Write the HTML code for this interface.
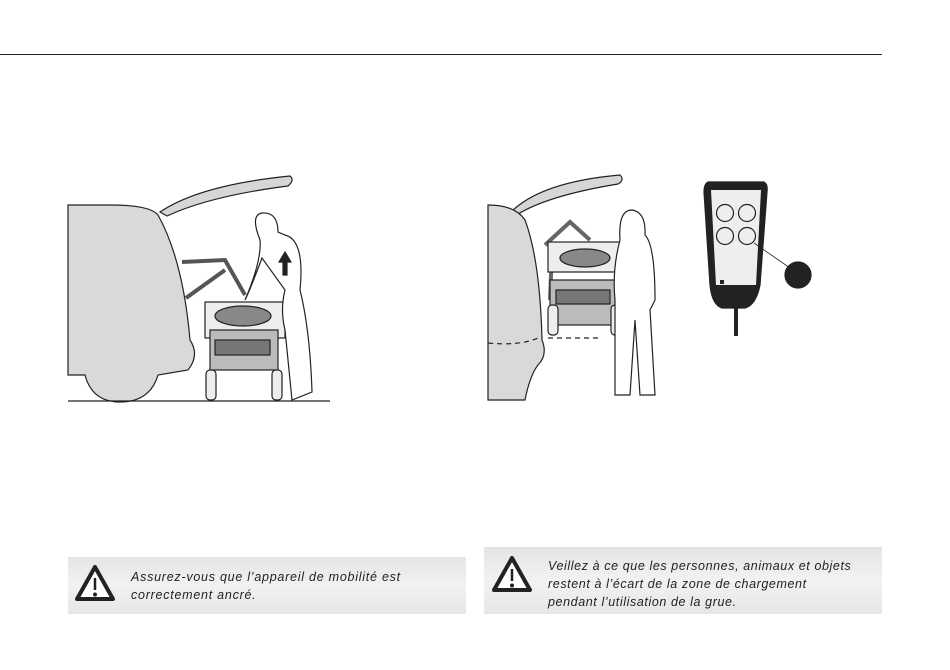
<!DOCTYPE html>
<html><head><meta charset="utf-8"><style>
body{margin:0;background:#fff;width:950px;height:670px;overflow:hidden;position:relative;font-family:"Liberation Sans",sans-serif}
.box{position:absolute;background:linear-gradient(#e4e4e4,#f2f2f2 50%,#e6e6e6);}
.box p{position:absolute;margin:0;font-style:italic;font-size:12.5px;line-height:18px;color:#222;letter-spacing:0.75px}
</style></head><body>
<div style="position:absolute;left:0;top:54px;width:882px;height:1px;background:#222"></div>
<svg width="950" height="670" style="position:absolute;left:0;top:0" stroke="#222" stroke-width="1.2" fill="none">
<!-- left scene -->
<path d="M160 212 Q200 185 290 176 Q295 180 288 186 Q210 196 167 216 Z" fill="#d6d6d6"/>
<path d="M68 205 L68 375 L85 375 Q92 402 120 402 Q150 402 158 375 L188 370 Q200 355 190 340 Q183 260 158 215 Q150 205 110 205 Z" fill="#d9d9d9"/>
<line x1="68" y1="401" x2="330" y2="401"/>
<path d="M182 262 L225 260 L245 295 M186 298 L225 270" stroke-width="4" stroke="#555"/>
<rect x="205" y="302" width="80" height="36" fill="#eee"/>
<ellipse cx="243" cy="316" rx="28" ry="10" fill="#888"/>
<rect x="210" y="330" width="68" height="40" fill="#bbb"/>
<rect x="215" y="340" width="55" height="15" fill="#777"/>
<rect x="206" y="370" width="10" height="30" rx="4" fill="#eee"/>
<rect x="272" y="370" width="10" height="30" rx="4" fill="#eee"/>
<path d="M260 240 Q250 215 262 213 Q278 212 278 232 L285 235 Q305 240 300 290 Q310 330 312 392 L292 400 Q288 360 285 330 Q280 310 285 290 L262 258 Q250 290 245 300 Q262 260 260 240 Z" fill="#fff"/>
<path d="M283 275 L283 262 L279 262 L285 252 L291 262 L287 262 L287 275 Z" fill="#222"/>
<!-- right scene -->
<path d="M510 213 Q540 182 620 175 Q625 180 618 184 Q545 196 515 216 Z" fill="#d6d6d6"/>
<path d="M488 205 Q515 205 525 220 Q540 260 542 340 Q548 355 538 365 Q530 375 525 400 L488 400 Z" fill="#d9d9d9"/>
<path d="M488 343 Q520 346 538 338 M548 338 L600 338" stroke-dasharray="5 4"/>
<path d="M545 245 L570 222 L590 240 M550 300 L552 250" stroke-width="4" stroke="#666"/>
<rect x="548" y="242" width="78" height="30" fill="#eee"/>
<ellipse cx="585" cy="258" rx="25" ry="9" fill="#888"/>
<rect x="550" y="280" width="66" height="45" fill="#bbb"/>
<rect x="556" y="290" width="54" height="14" fill="#777"/>
<rect x="548" y="305" width="10" height="30" rx="4" fill="#eee"/>
<rect x="611" y="305" width="10" height="30" rx="4" fill="#eee"/>
<path d="M620 240 Q618 210 632 210 Q646 212 645 235 Q655 245 655 300 L650 310 L655 395 L640 395 L635 320 L630 395 L615 395 L615 300 Q612 270 620 240 Z" fill="#fff"/>
<!-- remote -->
<path d="M708 182 L764 182 Q768 184 767 192 L760 285 Q756 305 745 308 L722 308 Q712 305 710 285 L704 192 Q704 184 708 182 Z" fill="#222"/>
<path d="M711 190 L761 190 L756 285 L716 285 Z" fill="#eee" stroke="none"/>
<circle cx="725" cy="213" r="8.5" fill="#eee"/><circle cx="747" cy="213" r="8.5" fill="#eee"/>
<circle cx="725" cy="236" r="8.5" fill="#eee"/><circle cx="747" cy="236" r="8.5" fill="#eee"/>
<rect x="720" y="280" width="4" height="4" fill="#222" stroke="none"/>
<line x1="736" y1="308" x2="736" y2="336" stroke-width="4"/>
<line x1="754" y1="243" x2="790" y2="268" stroke-width="0.8"/>
<circle cx="798" cy="275" r="13" fill="#222"/>
</svg>
<div class="box" style="left:68px;top:557px;width:398px;height:57px"><p style="left:63px;top:11px">Assurez-vous que l’appareil de mobilité est<br>correctement ancré.</p></div>
<div class="box" style="left:484px;top:547px;width:398px;height:67px"><p style="left:64px;top:10px;letter-spacing:0.6px">Veillez à ce que les personnes, animaux et objets<br>restent à l’écart de la zone de chargement<br>pendant l’utilisation de la grue.</p></div>
<svg width="950" height="670" style="position:absolute;left:0;top:0" stroke="#222" fill="none">
<g transform="translate(512,576)"><path d="M0 -18 L18 14 L-18 14 Z" stroke-width="4" stroke-linejoin="round" fill="#fff"/><line x1="0" y1="-7" x2="0" y2="5" stroke-width="2.5"/><circle cx="0" cy="9.5" r="1.5" fill="#222"/></g>
<g transform="translate(95,585)"><path d="M0 -18 L18 14 L-18 14 Z" stroke-width="4" stroke-linejoin="round" fill="#fff"/><line x1="0" y1="-7" x2="0" y2="5" stroke-width="2.5"/><circle cx="0" cy="9.5" r="1.5" fill="#222"/></g>
</svg>
</body></html>
